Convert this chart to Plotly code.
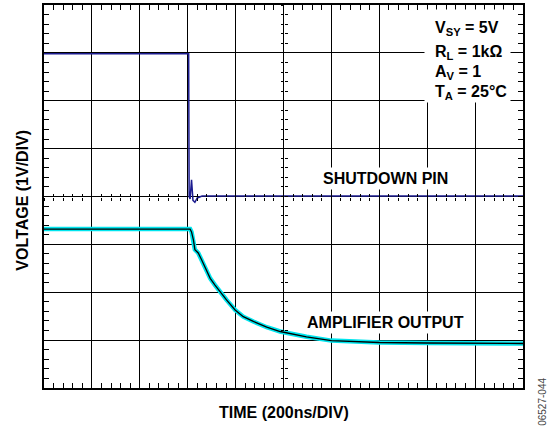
import plotly.graph_objects as go

# scope trace, in divisions (x: 200 ns/div, y: 1 V/div)
amp_x = [0, 3.05, 3.08, 3.12, 3.15, 3.22, 3.29, 3.36, 3.47, 3.57, 3.67, 3.81, 3.99,
         4.16, 4.37, 4.65, 4.93, 5.2, 5.48, 6.0, 7.0, 8.0, 9.0, 10.0]
amp_y = [3.32, 3.32, 3.26, 3.09, 2.89, 2.82, 2.68, 2.54, 2.29, 2.15, 2.01, 1.84, 1.63,
         1.49, 1.39, 1.27, 1.18, 1.12, 1.07, 0.99, 0.95, 0.94, 0.93, 0.93]

sd_x = [0, 3.02, 3.03, 3.05, 3.08, 3.11, 3.15, 3.2, 3.3, 10]
sd_y = [6.98, 6.98, 4.0, 3.95, 4.35, 3.92, 3.88, 3.97, 4.01, 4.01]

cond_labels = ["<b>V<sub>SY</sub> = 5V</b>", "<b>R<sub>L</sub> = 1kΩ</b>",
               "<b>A<sub>V</sub> = 1</b>", "<b>T<sub>A</sub> = 25°C</b>"]
cond_y = [7.51, 7.0, 6.6, 6.17]

FONT = "Liberation Sans, Arial, sans-serif"

fig = go.Figure()
fig.add_trace(go.Scatter(x=amp_x, y=amp_y, mode="lines", line=dict(color="#00e5ee", width=4.5), hoverinfo="skip"))
fig.add_trace(go.Scatter(x=amp_x, y=amp_y, mode="lines", line=dict(color="black", width=1.3), hoverinfo="skip"))
fig.add_trace(go.Scatter(x=sd_x, y=sd_y, mode="lines", line=dict(color="#1c1c90", width=1.5), hoverinfo="skip"))

# empty traces so the centre-line tick axes get drawn
for xa, ya in [("x2", "y"), ("x3", "y"), ("x", "y2"), ("x", "y3")]:
    fig.add_trace(go.Scatter(x=[], y=[], xaxis=xa, yaxis=ya, hoverinfo="skip"))

border = dict(showgrid=True, gridcolor="black", gridwidth=1.4, dtick=1, tick0=0,
              showticklabels=False, ticks="inside", ticklen=5, tickcolor="black",
              showline=True, linecolor="black", linewidth=2, mirror="allticks",
              zeroline=False, fixedrange=True,
              minor=dict(dtick=0.2, tick0=0, ticks="inside", ticklen=5, tickcolor="black", tickwidth=1.2))
fig.update_layout(xaxis=dict(range=[0, 10], **border), yaxis=dict(range=[0, 8], **border))

centre = dict(anchor="free", position=0.5, showgrid=False, showline=False,
              zeroline=False, showticklabels=False, dtick=0.2, tick0=0, ticklen=3,
              tickcolor="black", tickwidth=1.2)
fig.update_layout(
    xaxis2=dict(centre, overlaying="x", range=[0, 10], ticks="inside"),
    xaxis3=dict(centre, overlaying="x", range=[0, 10], ticks="outside"),
    yaxis2=dict(centre, overlaying="y", range=[0, 8], ticks="inside"),
    yaxis3=dict(centre, overlaying="y", range=[0, 8], ticks="outside"),
)

annots = [
    dict(text="<b>VOLTAGE (1V/DIV)</b>", xref="paper", yref="paper", x=-0.0445, y=0.491, textangle=-90,
         font=dict(size=16)),
    dict(text="<b>TIME (200ns/DIV)</b>", xref="paper", yref="paper", x=0.502, y=-0.064, font=dict(size=16)),
    dict(text="06527-044", xref="paper", yref="paper", x=1.041, y=-0.037, textangle=-90,
         font=dict(size=10, color="#444")),
    dict(text="<b>SHUTDOWN PIN</b>", x=7.12, y=4.37, bgcolor="white", borderpad=2, font=dict(size=16)),
    dict(text="<b>AMPLIFIER OUTPUT</b>", x=7.12, y=1.36, bgcolor="white", borderpad=2, font=dict(size=16)),
    # white panel behind the test conditions
    dict(text=" ", x=8.84, y=6.94, width=85, height=92, bgcolor="white", borderpad=0, font=dict(size=10)),
]
for lab, yy in zip(cond_labels, cond_y):
    annots.append(dict(text=lab, x=8.12, y=yy, xanchor="left", font=dict(size=16)))
for a in annots:
    a.setdefault("xref", "x")
    a.setdefault("yref", "y")
    a.setdefault("xanchor", "center")
    a.setdefault("yanchor", "middle")
    a["showarrow"] = False
    a["font"] = dict(family=FONT, color=a["font"].get("color", "black"), size=a["font"]["size"])
fig.update_layout(annotations=annots)

fig.update_layout(width=553, height=427, margin=dict(l=44, r=30, t=5, b=39, autoexpand=False),
                  paper_bgcolor="white", plot_bgcolor="white", showlegend=False,
                  font=dict(family=FONT, color="black"))
fig.write_html("out.html", config={"displayModeBar": False},
               post_script="document.body.style.margin='0px';")
